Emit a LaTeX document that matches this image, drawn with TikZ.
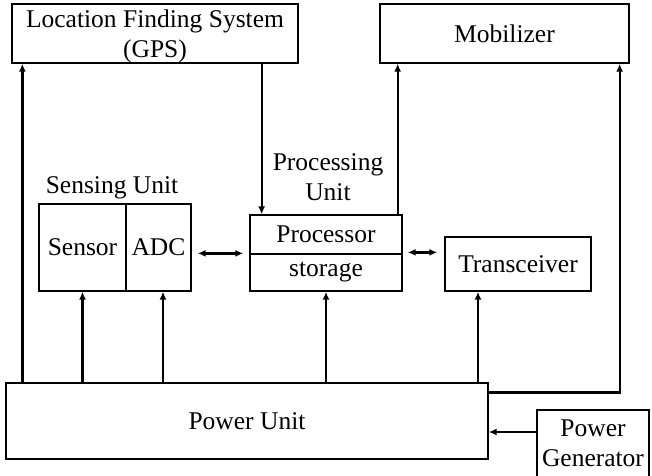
\documentclass[tikz,border=0pt]{standalone}
\usepackage{fontspec}
\setmainfont{Liberation Serif}
\usetikzlibrary{arrows.meta,calc}
\begin{document}
\begin{tikzpicture}[x=1pt,y=-1pt,
  box/.style={draw,line width=1.3pt,rectangle,inner sep=0pt,align=center,
    font=\fontsize{25.5}{30}\selectfont},
  lbl/.style={inner sep=0pt,align=center,font=\fontsize{25.5}{30}\selectfont},
  arr/.style={line width=2.3pt,-{Latex[length=8pt,width=7pt]}},
  darr/.style={line width=2.3pt,{Latex[length=8pt,width=7pt]}-{Latex[length=8pt,width=7pt]}}]
\useasboundingbox (0,0) rectangle (652,475);
% boxes
\node[box,minimum width=286pt,minimum height=59pt] (gps) at (155,33.5) {};
\node[lbl] (gpstext) at (155,36) {Location Finding System\\(GPS)};
\node[box,minimum width=249pt,minimum height=59pt] (mob) at (504.5,33.5) {Mobilizer};
\node[box,minimum width=87pt,minimum height=87pt] (sensor) at (82.5,247.5) {Sensor};
\node[box,minimum width=65pt,minimum height=87pt] (adc) at (158.5,247.5) {ADC};
\node[lbl] (sulabel) at (112,188) {Sensing Unit};
\node[box,minimum width=152pt,minimum height=39pt] (proc) at (326,234.5) {Processor};
\node[box,minimum width=152pt,minimum height=37pt] (stor) at (326,272.5) {storage};
\node[lbl] (pulabel) at (328,177) {Processing\\Unit};
\node[box,minimum width=146pt,minimum height=54pt] (trans) at (518,264) {Transceiver};
\node[box,minimum width=482pt,minimum height=76pt] (power) at (247,421) {Power Unit};
\node[box,minimum width=112pt,minimum height=67pt] (gen) at (593,443.5) {Power\\Generator};
% connectors
\draw[arr] (power.north -| gps.west) ++(11,0) coordinate (g0) -- (g0 |- gps.south);
\draw[arr] ($(gps.south east)+(-37,0)$) coordinate (g1) -- (g1 |- proc.north);
\draw[arr] ($(proc.north east)+(-5,0)$) coordinate (m0) -- (m0 |- mob.south);
\draw[arr] ($(power.north east)+(0,10)$) coordinate (m1) -- ++(131,0) coordinate (m2) -- (m2 |- mob.south);
\draw[arr] (power.north -| sensor) -- (sensor.south);
\draw[arr] ($(power.north -| adc)+(4.5,0)$) coordinate (a0) -- (a0 |- adc.south);
\draw[arr] (power.north -| stor) -- (stor.south);
\draw[arr] ($(power.north -| trans)+(-40,0)$) coordinate (t0) -- (t0 |- trans.south);
\draw[darr] ($(adc.east |- stor.north)+(6,0)$) -- ($(proc.west |- stor.north)+(-6,0)$);
\draw[darr] ($(proc.east |- stor.north)+(5,-1)$) -- ($(trans.west |- stor.north)+(-7,-1)$);
\draw[arr] (gen.west |- 0,432) coordinate (p0) -- (p0 -| power.east);
\end{tikzpicture}
\end{document}
